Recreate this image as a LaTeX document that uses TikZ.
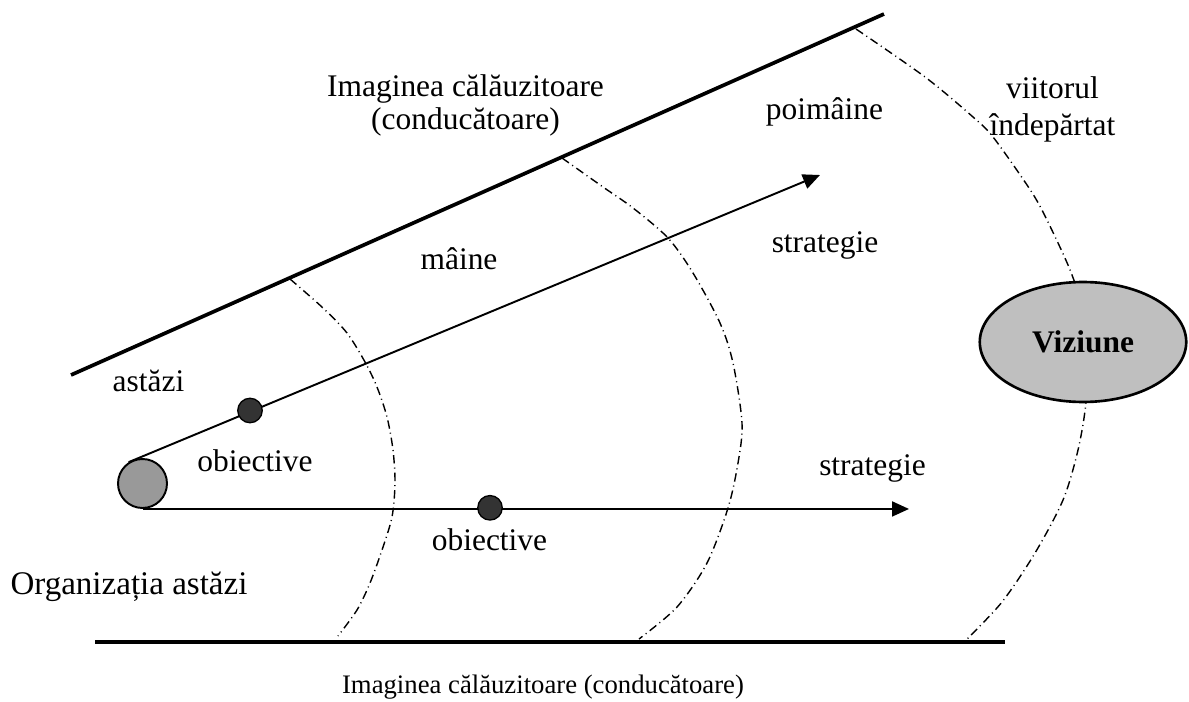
\documentclass[tikz,border=0pt]{standalone}
\usepackage{fontspec}
\setmainfont{Liberation Serif}
\usetikzlibrary{arrows.meta, shapes.geometric, positioning}

\begin{document}
\begin{tikzpicture}[x=0.02cm, y=-0.02cm,
    font=\fontsize{17.9pt}{18.7pt}\selectfont,
    txt/.style={anchor=base, inner sep=0pt},
    rim/.style={line width=2.1pt},
    strat/.style={line width=1.1pt, -{Triangle[length=0.34cm, width=0.3cm]}},
    horizon/.style={line width=0.8pt, dash pattern=on 4.8pt off 2.3pt on 0.6pt off 2.3pt},
    goal/.style={circle, draw, line width=0.75pt, fill=black!80, minimum size=0.49cm, inner sep=0pt},
]
\useasboundingbox (0,0) rectangle (1189,702);

% time horizons
\draw[horizon] plot[smooth] coordinates {(290,279) (323,308) (347,333) (365,362) (377,387) (387,417)
    (393,450) (395,483) (392,517) (382,550) (370,583) (357,610) (338,636)};
\draw[horizon] plot[smooth] coordinates {(562,158) (603,187) (633,208) (668,238) (693,273) (720,323)
    (733,363) (742,423) (738,463) (728,508) (707,563) (677,607) (639,639)};
\draw[horizon] plot[smooth] coordinates {(856,29) (925,77) (973,117) (993,137) (1027,185) (1043,212)
    (1068,265) (1080,300) (1088,345) (1086,402) (1078,450) (1063,500) (1035,553) (1002,602) (966,640)};

% guiding image
\coordinate (Tleft) at (71,375);
\coordinate (Tright) at (884,14);
\coordinate (Bleft) at (95,642);
\coordinate (Bright) at (1005,642);
\draw[rim] (Tleft) -- (Tright);
\draw[rim] (Bleft) -- (Bright);

\node (org) [circle, draw, line width=1.1pt, fill=black!40, minimum size=0.98cm, inner sep=0pt] at (142.5,483.5) {};
\coordinate (S1end) at (820,175);
\coordinate (S2end) at (909,508);
\draw[strat] (org.123) -- (S1end);
\draw[strat] (org.south) -- (org.south -| S2end);
\node (goal1) [goal] at (250,410.5) {};
\node (goal2) [goal] at (490,507.8) {};

\node (vision) [ellipse, draw, line width=1.5pt, fill=black!25, minimum width=4.13cm, minimum height=2.4cm,
    inner sep=0pt, font=\bfseries\fontsize{17.9pt}{18.7pt}\selectfont] at (1083,342) {Viziune};

\node (guideT) [align=center, anchor=north, inner sep=0pt] at (465.5,74.4) {Imaginea călăuzitoare\\(conducătoare)};
\node (future) [align=center, anchor=north, inner sep=0pt] at (1052.5,76.4) {viitorul\\[2.3pt]îndepărtat};
\node (today) [txt] at (148.5,391.7) {astăzi};
\node (tomorrow) [txt] at (459,270) {mâine};
\node (aftertm) [txt] at (824.5,120) {poimâine};
\node (strat1) [txt] at (825,253) {strategie};
\node (strat2) [txt] at (872.5,475) {strategie};
\node (obj1) [txt] at (255,471.7) {obiective};
\node (obj2) [txt] at (489.5,550) {obiective};
\node (orgname) [txt, font=\fontsize{18.8pt}{19pt}\selectfont] at (129,594) {Organizația astăzi};
\node (guideB) [txt, font=\fontsize{15.2pt}{18pt}\selectfont] at (543,693) {Imaginea călăuzitoare (conducătoare)};
\end{tikzpicture}
\end{document}
